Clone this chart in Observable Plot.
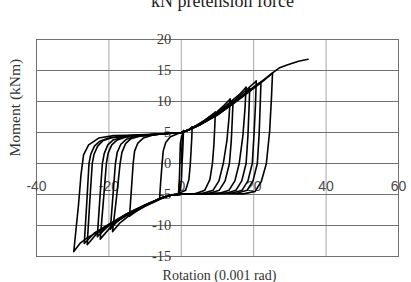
<!DOCTYPE html>
<html>
<head>
<meta charset="utf-8">
<script src="https://cdn.jsdelivr.net/npm/d3@7"></script>
<script src="https://cdn.jsdelivr.net/npm/@observablehq/plot@0.6"></script>
<style>
  html, body { margin: 0; padding: 0; background: #fff; overflow: hidden; }
  #chart { position: relative; width: 411px; height: 282px; }
</style>
</head>
<body>
<div id="chart"></div>
<script>
// Tick values
const xTicks = [-40, -20, 0, 20, 40, 60];
const yTicks = [-15, -10, -5, 0, 5, 10, 15, 20];

// Texts
const titleText = "kN pretension force";
const xTitle = "Rotation (0.001 rad)";
const yTitle = "Moment (kNm)";

// Hysteresis path, [rotation, moment] in time order, split by cycle
const loading0 = [[0,0],[0.2,3.0],[0.4,4.6],[0.6,5.3]];
const cycle1 = [[0.6,5.3],[0.5,3.5],[0.35,1.5],[0.2,0],[0.05,-2.5],[-0.3,-4.3],[-0.8,-5.0],[-0.6,-3.5],[-0.45,-1.0],[-0.35,1.5],[-0.25,3.3],[0.1,4.4],[0.8,5.1],[1.8,5.35],[3.0,5.9]];
const cycle2 = [[3.0,5.9],[2.9,4.2],[2.7,2.1],[2.5,0],[2.1,-2.6],[1.2,-4.3],[-1,-4.9],[-3,-5.1],[-5,-5.45],[-6.0,-5.7],[-5.7,-3.0],[-5.3,0],[-5.0,2.0],[-4.3,3.4],[-3,4.3],[-1,4.8],[0,5.0],[2,5.4],[4,6.1],[6.5,7.0],[9.4,8.3]];
const cycle3 = [[9.4,8.3],[9.25,6.0],[9.0,3.0],[8.6,0],[7.9,-2.6],[6.5,-4.3],[4,-4.85],[0,-4.95],[-3,-5.1],[-6,-5.7],[-9,-6.5],[-12,-7.5],[-14.3,-8.5],[-13.8,-4.3],[-13.3,0],[-12.9,2.0],[-12.0,3.3],[-10.5,4.1],[-8,4.55],[-5,4.8],[0,5.0],[2,5.4],[5,6.4],[9.4,8.1],[11.5,9.2],[13.5,10.4]];
const cycle4 = [[13.5,10.4],[13.2,7.5],[12.6,3.7],[11.6,0],[10.4,-2.8],[8.8,-4.3],[6,-4.8],[0,-4.95],[-3,-5.1],[-6,-5.8],[-10,-6.9],[-14,-8.2],[-17,-9.6],[-19.0,-11.0],[-17.9,-5.5],[-16.9,0],[-16.4,1.8],[-15.4,3.2],[-13.9,4.0],[-11.5,4.4],[-8,4.6],[-5,4.8],[0,5.0],[2,5.4],[5,6.2],[9,7.6],[12,8.8],[14.3,10.1]];
const cycle5 = [[14.3,10.1],[14.1,7.3],[13.8,3.6],[13.3,0],[12.1,-2.8],[10.5,-4.3],[7.8,-4.8],[0,-4.95],[-3,-5.1],[-6,-5.7],[-10,-6.7],[-14,-7.8],[-17.5,-9.2],[-19.6,-10.6],[-18.9,-5.3],[-18.2,0],[-17.7,1.8],[-16.7,3.1],[-15.2,3.9],[-12.5,4.35],[-8,4.6],[-5,4.8],[0,5.0],[2,5.4],[5,6.3],[9.4,7.9],[13.5,9.9],[16,11.1],[17.9,12.3]];
const cycle6 = [[17.9,12.3],[17.6,8.9],[17.0,4.4],[16.0,0],[14.8,-2.8],[13.2,-4.3],[10.5,-4.8],[5,-4.9],[0,-4.95],[-3,-5.1],[-6,-5.7],[-10,-6.8],[-15,-8.3],[-19,-9.9],[-22.4,-12.2],[-21.5,-5.9],[-20.7,0],[-20.2,1.7],[-19.2,3.0],[-17.7,3.8],[-15,4.3],[-10,4.6],[-5,4.8],[0,5.0],[2,5.4],[5,6.2],[10,7.9],[14,9.6],[17,11.0],[18.9,12.1]];
const cycle7 = [[18.9,12.1],[18.7,8.7],[18.4,4.4],[17.9,0],[16.7,-2.8],[15.1,-4.3],[12.4,-4.8],[5,-4.9],[0,-4.95],[-3,-5.1],[-6,-5.7],[-10,-6.7],[-15,-8.1],[-19.5,-9.7],[-23.2,-11.8],[-22.5,-5.7],[-21.8,0],[-21.3,1.6],[-20.3,3.0],[-18.8,3.8],[-16,4.3],[-10,4.6],[-5,4.8],[0,5.0],[2,5.4],[5,6.3],[10,8.0],[14,9.8],[18,11.9],[20.7,13.3]];
const cycle8 = [[20.7,13.3],[20.5,9.6],[20.1,4.8],[19.6,0],[18.4,-2.8],[16.8,-4.3],[14.1,-4.75],[5,-4.9],[0,-4.95],[-3,-5.1],[-6,-5.7],[-10,-6.8],[-15,-8.3],[-20,-10.0],[-23.5,-11.4],[-26.0,-13.1],[-25.3,-6.3],[-24.6,0],[-24.1,1.5],[-23.1,2.8],[-21.6,3.7],[-19,4.2],[-15,4.45],[-10,4.6],[-5,4.8],[0,5.0],[2,5.4],[5,6.2],[10,7.8],[15,10.0],[19,11.9],[22.0,13.1]];
const cycle9 = [[22.0,13.1],[21.8,9.4],[21.5,4.7],[21.0,0],[19.8,-2.8],[18.2,-4.3],[15.5,-4.75],[10,-4.85],[0,-4.95],[-3,-5.1],[-6,-5.7],[-10,-6.7],[-15,-8.1],[-20,-9.8],[-24,-11.2],[-26.8,-12.9],[-26.1,-6.2],[-25.5,0],[-25.0,1.5],[-24.0,2.8],[-22.5,3.6],[-20,4.1],[-15,4.45],[-10,4.6],[-5,4.8],[0,5.0],[2,5.4],[5,6.3],[10,8.0],[15,10.1],[20,12.3],[23,13.6],[25.2,14.6]];
const cycle10 = [[25.2,14.6],[24.9,10.5],[24.4,5.2],[23.5,0],[22.1,-2.9],[20.4,-4.5],[17.2,-4.9],[10,-4.85],[0,-4.95],[-3,-5.1],[-6,-5.7],[-10,-6.8],[-15,-8.3],[-20,-10.0],[-23,-11.0],[-26,-12.0],[-28,-12.9],[-29.7,-14.2],[-28.4,-6.7],[-27.7,-1.8],[-27,1.4],[-25.6,3.0],[-22.8,4.1],[-18.7,4.5],[-15,4.55],[-10,4.65],[-5,4.8],[0,5.0],[2,5.4],[5,6.2],[10,7.9],[15,9.9],[20,12.1],[23,13.5],[25.4,14.7],[27,15.4],[29.2,15.9],[32.4,16.5],[35,16.8]];

const cycles = [loading0, cycle1, cycle2, cycle3, cycle4, cycle5, cycle6, cycle7, cycle8, cycle9, cycle10];
const rows = cycles.flatMap((pts, i) => pts.map(([x, y], j) => ({x, y, cycle: i, order: j})));

const serif = "'Liberation Serif', 'Times New Roman', serif";
const sans = "'Liberation Sans', Arial, sans-serif";

const chart = Plot.plot({
  width: 411,
  height: 282,
  marginLeft: 36,
  marginRight: 13,
  marginTop: 39,
  marginBottom: 26,
  x: {domain: [-40, 60], axis: null},
  y: {domain: [-15, 20], axis: null},
  style: {background: "#fff", overflow: "hidden"},
  marks: [
    Plot.ruleX(xTicks, {stroke: "#a8a8a8", strokeWidth: 1}),
    Plot.ruleY(yTicks, {stroke: "#707070", strokeWidth: 1}),
    Plot.frame({stroke: "#707070", strokeWidth: 1}),
    Plot.text(yTicks, {x: 0, y: d => d, text: d => String(d), dx: -10, textAnchor: "end", fontFamily: serif, fontSize: 14.5, fill: "#3a3a3a"}),
    Plot.text(xTicks, {x: d => d, y: 0, text: d => String(d), dy: 23, fontFamily: sans, fontSize: 14, fill: "#4a4a4a"}),
    Plot.line(rows, {x: "x", y: "y", z: "cycle", stroke: "#000", strokeWidth: 1.6, strokeLinejoin: "round"}),
    Plot.text([titleText], {frameAnchor: "top", dx: 5, dy: -33, lineAnchor: "bottom", fontFamily: serif, fontSize: 18, fill: "#222"}),
    Plot.text([xTitle], {frameAnchor: "bottom", dx: 2, dy: 23, lineAnchor: "bottom", fontFamily: serif, fontSize: 14, fill: "#333"}),
    Plot.text([yTitle], {frameAnchor: "left", dx: -21, dy: 8.5, rotate: -90, lineAnchor: "middle", fontFamily: serif, fontSize: 15.5, fill: "#333"})
  ]
});
document.getElementById("chart").appendChild(chart);
</script>
</body>
</html>
